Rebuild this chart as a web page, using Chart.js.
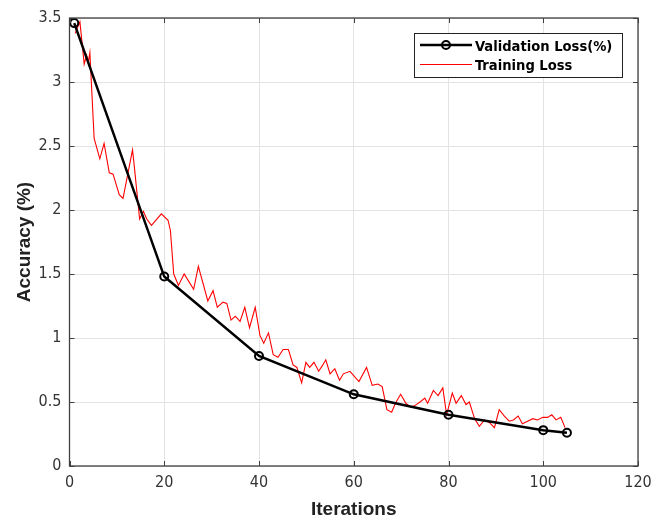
<!DOCTYPE html>
<html>
<head>
<meta charset="utf-8">
<script src="https://cdn.jsdelivr.net/npm/chart.js@4.4.1/dist/chart.umd.min.js"></script>
<style>
  html, body { margin: 0; padding: 0; background: #fff; }
  #wrap { width: 664px; height: 520px; }
</style>
</head>
<body>
<div id="wrap"><canvas id="lossChart" width="664" height="520"></canvas></div>
<script>
// validation loss (black line with circles)
const valIter = [1, 20, 40, 60, 80, 100, 105];
const valLoss = [3.46, 1.48, 0.86, 0.56, 0.40, 0.28, 0.26];

// training loss (red line)
const trainIter = [1.2, 2.2, 3.1, 3.6, 4.0, 4.3, 5.2, 6.4, 7.3, 8.4, 9.2, 10.5, 11.3, 13.3, 13.6,
  14.8, 15.6, 16.3, 17.3, 19.4, 20.8, 21.3, 22.0, 23.0, 24.2, 26.2, 27.2, 29.2, 30.3, 31.2,
  32.4, 33.2, 34.1, 35.0, 36.0, 37.0, 38.0, 39.2, 40.2, 41.0, 42.0, 43.0, 44.0, 45.1, 46.2,
  47.2, 48.0, 49.0, 49.9, 50.7, 51.6, 52.6, 53.3, 54.1, 55.0, 56.0, 57.0, 57.8, 59.2, 61.1,
  62.7, 63.9, 65.1, 66.0, 67.0, 68.0, 68.8, 69.9, 71.0, 72.0, 72.8, 74.0, 75.0, 75.6, 76.8,
  77.8, 78.8, 79.6, 80.8, 81.6, 82.7, 83.7, 84.4, 85.5, 86.5, 87.6, 88.6, 89.7, 90.7, 91.8,
  92.8, 93.7, 94.7, 95.6, 96.7, 97.8, 98.8, 99.9, 100.9, 101.8, 102.7, 103.7, 104.6];
const trainLoss = [3.38, 3.47, 3.14, 3.21, 3.16, 3.23, 2.56, 2.40, 2.52, 2.29, 2.28, 2.12, 2.09, 2.47, 2.37,
  1.93, 1.99, 1.93, 1.88, 1.97, 1.92, 1.84, 1.50, 1.41, 1.50, 1.38, 1.56, 1.29, 1.37, 1.24,
  1.28, 1.27, 1.14, 1.17, 1.13, 1.24, 1.08, 1.24, 1.02, 0.96, 1.04, 0.87, 0.85, 0.91, 0.91,
  0.79, 0.77, 0.65, 0.81, 0.77, 0.81, 0.74, 0.78, 0.83, 0.72, 0.76, 0.67, 0.72, 0.74, 0.66,
  0.77, 0.63, 0.64, 0.62, 0.44, 0.42, 0.49, 0.56, 0.49, 0.46, 0.47, 0.50, 0.53, 0.49, 0.59,
  0.55, 0.61, 0.40, 0.57, 0.49, 0.55, 0.48, 0.50, 0.37, 0.31, 0.36, 0.34, 0.30, 0.44, 0.39,
  0.35, 0.36, 0.39, 0.33, 0.35, 0.37, 0.36, 0.38, 0.38, 0.40, 0.36, 0.38, 0.30];

const xTicks = [0, 20, 40, 60, 80, 100, 120];
const yTicks = [0, 0.5, 1, 1.5, 2, 2.5, 3, 3.5];
const legendLabels = ['Validation Loss(%)', 'Training Loss'];

const axisColor = '#404040';
const tickFont = "'Liberation Sans Narrow', 'DejaVu Sans Condensed', sans-serif";

function pairs(xs, ys) {
  return xs.map((x, i) => ({ x: x, y: ys[i] }));
}

// MATLAB style box, inward ticks and legend
const matlabAxes = {
  id: 'matlabAxes',
  afterDatasetsDraw(chart) {
    const ctx = chart.ctx;
    const a = chart.chartArea;
    const xs = chart.scales.x, ys = chart.scales.y;
    ctx.save();
    ctx.strokeStyle = axisColor;
    ctx.lineWidth = 1.3;
    ctx.strokeRect(a.left, a.top, a.right - a.left, a.bottom - a.top);
    ctx.lineWidth = 1;
    ctx.beginPath();
    xTicks.forEach(v => {
      const p = Math.round(xs.getPixelForValue(v)) + 0.5;
      ctx.moveTo(p, a.bottom); ctx.lineTo(p, a.bottom - 5);
      ctx.moveTo(p, a.top); ctx.lineTo(p, a.top + 5);
    });
    yTicks.forEach(v => {
      const p = Math.round(ys.getPixelForValue(v)) + 0.5;
      ctx.moveTo(a.left, p); ctx.lineTo(a.left + 5, p);
      ctx.moveTo(a.right, p); ctx.lineTo(a.right - 5, p);
    });
    ctx.stroke();

    // legend
    const bx = 414, by = 33, bw = 208, bh = 44;
    ctx.fillStyle = '#fff';
    ctx.fillRect(bx, by, bw, bh);
    ctx.strokeStyle = '#222';
    ctx.lineWidth = 1;
    ctx.strokeRect(bx + 0.5, by + 0.5, bw, bh);

    ctx.strokeStyle = '#000';
    ctx.lineWidth = 2.5;
    ctx.beginPath(); ctx.moveTo(420, 45); ctx.lineTo(472, 45); ctx.stroke();
    ctx.lineWidth = 2;
    ctx.beginPath(); ctx.arc(446, 45, 4, 0, Math.PI * 2); ctx.stroke();
    ctx.strokeStyle = 'rgb(255,0,0)';
    ctx.lineWidth = 1;
    ctx.beginPath(); ctx.moveTo(420, 64.5); ctx.lineTo(472, 64.5); ctx.stroke();

    const legendFont = "'Liberation Sans Narrow', 'DejaVu Sans Condensed', sans-serif";
    let size = 18;
    ctx.font = 'bold ' + size + 'px ' + legendFont;
    const w = ctx.measureText(legendLabels[0]).width;
    if (w > 140) {
      size = size * 137 / w;
      ctx.font = 'bold ' + size.toFixed(1) + 'px ' + legendFont;
    }
    ctx.fillStyle = '#000';
    ctx.textBaseline = 'middle';
    ctx.textAlign = 'left';
    ctx.fillText(legendLabels[0], 475, 47);
    ctx.fillText(legendLabels[1], 475, 66);
    ctx.restore();
  }
};

new Chart(document.getElementById('lossChart'), {
  type: 'line',
  data: {
    datasets: [{
      label: legendLabels[0],
      data: pairs(valIter, valLoss),
      borderColor: '#000',
      borderWidth: 2.5,
      pointRadius: 4,
      pointBorderWidth: 2,
      pointBorderColor: '#000',
      pointBackgroundColor: 'rgba(255,255,255,0)',
      tension: 0
    }, {
      label: legendLabels[1],
      data: pairs(trainIter, trainLoss),
      borderColor: 'rgb(255,0,0)',
      borderWidth: 1.1,
      pointRadius: 0,
      tension: 0
    }]
  },
  options: {
    responsive: false,
    animation: false,
    layout: { padding: { top: 18, right: 26, left: 0, bottom: 0 } },
    plugins: {
      legend: { display: false },
      tooltip: { enabled: false }
    },
    scales: {
      x: {
        type: 'linear',
        min: 0,
        max: 120,
        afterFit(scale) { scale.height = 54; },
        afterBuildTicks(scale) { scale.ticks = xTicks.map(v => ({ value: v })); },
        grid: { color: '#e3e3e3', drawTicks: false },
        border: { display: false },
        ticks: {
          padding: 7,
          color: '#333',
          font: { family: tickFont, size: 16 },
          maxRotation: 0,
          callback: v => String(v)
        },
        title: {
          display: true,
          text: 'Iterations',
          color: '#222',
          padding: { top: 0, bottom: -1 },
          font: { family: "'Liberation Sans', Arial, sans-serif", size: 19, weight: 'bold' }
        }
      },
      y: {
        min: 0,
        max: 3.5,
        afterFit(scale) { scale.width = 69.5; },
        afterBuildTicks(scale) { scale.ticks = yTicks.map(v => ({ value: v })); },
        grid: { color: '#e3e3e3', drawTicks: false },
        border: { display: false },
        ticks: {
          padding: 8,
          color: '#333',
          font: { family: tickFont, size: 16 },
          callback: v => String(v)
        },
        title: {
          display: true,
          text: 'Accuracy (%)',
          color: '#222',
          padding: { top: 13.5, bottom: 0 },
          font: { family: "'Liberation Sans', Arial, sans-serif", size: 19, weight: 'bold' }
        }
      }
    }
  },
  plugins: [matlabAxes]
});
</script>
</body>
</html>
